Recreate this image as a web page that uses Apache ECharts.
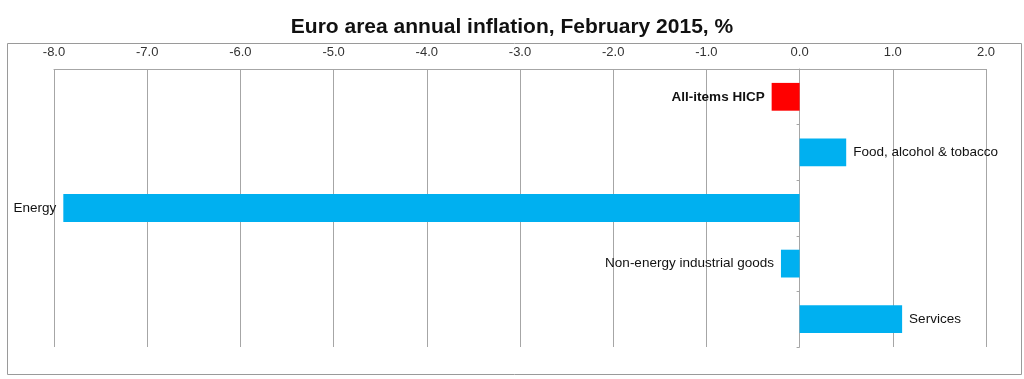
<!DOCTYPE html>
<html>
<head>
<meta charset="utf-8">
<script src="https://cdn.jsdelivr.net/npm/echarts@6/dist/echarts.min.js"></script>
<style>html,body{margin:0;padding:0;background:#fff}#c{width:1024px;height:379px}</style>
</head>
<body>
<div id="c"></div>
<script>
const categories = ['All-items HICP', 'Food, alcohol & tobacco', 'Energy', 'Non-energy industrial goods', 'Services'];
const values = [-0.3, 0.5, -7.9, -0.2, 1.1];
const barColors = ['#ff0000', '#00b0f0', '#00b0f0', '#00b0f0', '#00b0f0'];
const tickMin = -8, tickMax = 2, tickStep = 1;

const chart = echarts.init(document.getElementById('c'), null, {renderer: 'canvas'});
const data = values.map((v, i) => ({
  value: v,
  itemStyle: {color: barColors[i]},
  label: {
    show: true,
    position: v < 0 ? 'left' : 'right',
    distance: 7,
    formatter: categories[i],
    color: '#111',
    fontSize: 13.5,
    fontWeight: i === 0 ? 'bold' : 'normal',
    fontFamily: 'Liberation Sans, Arial, sans-serif'
  }
}));
chart.setOption({
  animation: false,
  backgroundColor: '#fff',
  title: {
    text: 'Euro area annual inflation, February 2015, %',
    left: 'center',
    top: 12,
    textStyle: {fontSize: 21, fontWeight: 'bold', color: '#111', fontFamily: 'Liberation Sans, Arial, sans-serif'}
  },
  graphic: [{
    type: 'rect',
    shape: {x: 7.5, y: 43.5, width: 1014, height: 331},
    style: {fill: 'none', stroke: '#9a9a9a', lineWidth: 1},
    silent: true, z: -1
  }],
  grid: {left: 54, right: 38, top: 69, bottom: 32},
  xAxis: {
    type: 'value',
    position: 'top',
    min: tickMin, max: tickMax, interval: tickStep,
    axisLine: {show: true, lineStyle: {color: '#a6a6a6'}},
    axisTick: {show: false},
    splitLine: {show: true, lineStyle: {color: '#a6a6a6'}},
    axisLabel: {
      formatter: v => v.toFixed(1),
      color: '#333', fontSize: 13, margin: 10,
      fontFamily: 'Liberation Sans, Arial, sans-serif'
    }
  },
  yAxis: {
    type: 'category',
    inverse: true,
    data: categories,
    axisLine: {show: true, onZero: true, lineStyle: {color: '#a6a6a6'}},
    axisTick: {show: true, length: 3, lineStyle: {color: '#a6a6a6'}},
    axisLabel: {show: false},
    splitLine: {show: false}
  },
  series: [{
    type: 'bar',
    data: data,
    barWidth: '50%'
  }]
});
</script>
</body>
</html>
